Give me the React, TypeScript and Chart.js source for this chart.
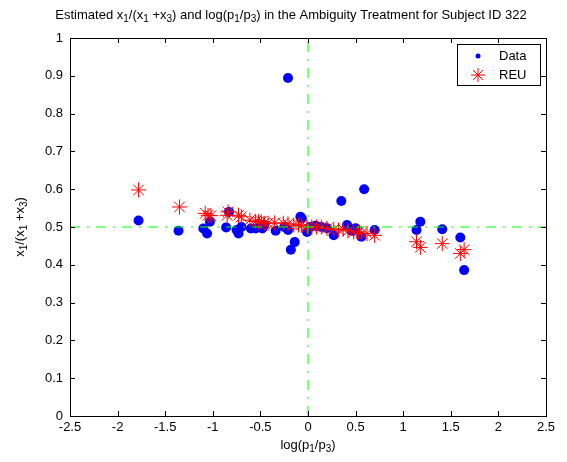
import React, { useEffect, useRef } from 'react';
import { Chart, registerables } from 'chart.js';
Chart.register(...registerables);

// Observed data (blue dots)
const dataX = [-1.78, -1.36, -1.10, -1.06, -1.03, -0.86, -0.83, -0.75, -0.73, -0.70, -0.60, -0.55, -0.48, -0.46, -0.34, -0.25, -0.21, -0.21, -0.18, -0.14, -0.08, -0.066, -0.01, 0.02, 0.08, 0.14, 0.20, 0.27, 0.35, 0.41, 0.46, 0.50, 0.56, 0.59, 0.70, 1.14, 1.18, 1.41, 1.60, 1.64];
const dataY = [0.517, 0.49, 0.496, 0.483, 0.514, 0.499, 0.54, 0.492, 0.483, 0.50, 0.496, 0.496, 0.496, 0.505, 0.49, 0.50, 0.894, 0.492, 0.44, 0.46, 0.527, 0.523, 0.487, 0.50, 0.503, 0.50, 0.497, 0.478, 0.569, 0.505, 0.49, 0.497, 0.474, 0.60, 0.492, 0.492, 0.514, 0.494, 0.472, 0.386];

// REU estimates (red stars)
const reuX = [-1.78, -1.35, -1.08, -1.05, -1.02, -0.85, -0.84, -0.73, -0.70, -0.61, -0.55, -0.52, -0.49, -0.46, -0.42, -0.35, -0.26, -0.21, -0.15, -0.10, -0.07, -0.01, 0.04, 0.09, 0.14, 0.20, 0.27, 0.32, 0.37, 0.42, 0.48, 0.53, 0.56, 0.62, 0.70, 1.14, 1.18, 1.41, 1.60, 1.64];
const reuY = [0.598, 0.553, 0.536, 0.531, 0.53, 0.531, 0.54, 0.531, 0.527, 0.518, 0.515, 0.514, 0.514, 0.51, 0.51, 0.511, 0.51, 0.508, 0.505, 0.505, 0.505, 0.50, 0.50, 0.50, 0.50, 0.496, 0.494, 0.492, 0.494, 0.49, 0.487, 0.487, 0.483, 0.483, 0.478, 0.461, 0.446, 0.456, 0.43, 0.44];

// Reference lines
const refX = 0;
const refY = 0.5;

const xTicks = [-2.5, -2, -1.5, -1, -0.5, 0, 0.5, 1, 1.5, 2, 2.5];
const yTicks = [0, 0.1, 0.2, 0.3, 0.4, 0.5, 0.6, 0.7, 0.8, 0.9, 1];

type Seg = [string, boolean];
const titleSegs: Seg[] = [
  ['Estimated x', false], ['1', true], ['/(x', false], ['1', true], [' +x', false], ['3', true],
  [') and log(p', false], ['1', true], ['/p', false], ['3', true],
  [') in the Ambiguity Treatment for Subject ID 322', false],
];
const xLabelSegs: Seg[] = [['log(p', false], ['1', true], ['/p', false], ['3', true], [')', false]];
const yLabelSegs: Seg[] = [['x', false], ['1', true], ['/(x', false], ['1', true], [' +x', false], ['3', true], [')', false]];

const FONT = '"Liberation Sans", Arial, sans-serif';
const SIZE = 13;
const SUB = 10;

function drawRich(ctx: CanvasRenderingContext2D, segs: Seg[], cx: number, cy: number) {
  let w = 0;
  for (const [t, s] of segs) {
    ctx.font = `${s ? SUB : SIZE}px ${FONT}`;
    w += ctx.measureText(t).width;
  }
  let x = cx - w / 2;
  ctx.textAlign = 'left';
  ctx.textBaseline = 'middle';
  for (const [t, s] of segs) {
    ctx.font = `${s ? SUB : SIZE}px ${FONT}`;
    ctx.fillText(t, x, s ? cy + 4 : cy);
    x += ctx.measureText(t).width;
  }
}

const decorPlugin = {
  id: 'decor',
  afterDraw(chart: any) {
    const { ctx, chartArea, scales } = chart;
    const { left, right, top, bottom } = chartArea;
    ctx.save();
    ctx.strokeStyle = '#000';
    ctx.lineWidth = 1;
    ctx.strokeRect(Math.round(left) + 0.5, Math.round(top) + 0.5, Math.round(right - left), Math.round(bottom - top));
    ctx.beginPath();
    for (const v of xTicks) {
      const px = Math.round(scales.x.getPixelForValue(v)) + 0.5;
      ctx.moveTo(px, bottom); ctx.lineTo(px, bottom - 5);
      ctx.moveTo(px, top); ctx.lineTo(px, top + 5);
    }
    for (const v of yTicks) {
      const py = Math.round(scales.y.getPixelForValue(v)) + 0.5;
      ctx.moveTo(left, py); ctx.lineTo(left + 5, py);
      ctx.moveTo(right, py); ctx.lineTo(right - 5, py);
    }
    ctx.stroke();

    ctx.fillStyle = '#000';
    drawRich(ctx, titleSegs, 291, 15);
    drawRich(ctx, xLabelSegs, (left + right) / 2, 445);
    ctx.save();
    ctx.translate(20, (top + bottom) / 2);
    ctx.rotate(-Math.PI / 2);
    drawRich(ctx, yLabelSegs, 0, 0);
    ctx.restore();

    // legend
    const lx = 457, ly = 44, lw = 83, lh = 41;
    ctx.fillStyle = '#fff';
    ctx.fillRect(lx, ly, lw, lh);
    ctx.strokeStyle = '#000';
    ctx.strokeRect(lx + 0.5, ly + 0.5, lw, lh);
    const ds = chart.data.datasets;
    ctx.fillStyle = '#0000ff';
    ctx.beginPath();
    ctx.arc(478, 56, 2.5, 0, Math.PI * 2);
    ctx.fill();
    ctx.strokeStyle = '#ff0000';
    ctx.beginPath();
    const r = 7;
    const sx = 478, sy = 75;
    ctx.moveTo(sx - r, sy); ctx.lineTo(sx + r, sy);
    ctx.moveTo(sx, sy - r); ctx.lineTo(sx, sy + r);
    const d = r * Math.SQRT1_2;
    ctx.moveTo(sx - d, sy - d); ctx.lineTo(sx + d, sy + d);
    ctx.moveTo(sx - d, sy + d); ctx.lineTo(sx + d, sy - d);
    ctx.stroke();
    ctx.fillStyle = '#000';
    ctx.font = `${SIZE}px ${FONT}`;
    ctx.textAlign = 'left';
    ctx.textBaseline = 'middle';
    ctx.fillText(ds[2].label, 499, 56);
    ctx.fillText(ds[1].label, 499, 75);
    ctx.restore();
  },
};

export default function App() {
  const ref = useRef<HTMLCanvasElement>(null);
  useEffect(() => {
    const data = dataX.map((x, i) => ({ x, y: dataY[i] }));
    const reu = reuX.map((x, i) => ({ x, y: reuY[i] }));
    const chart = new Chart(ref.current as HTMLCanvasElement, {
      type: 'scatter',
      data: {
        datasets: [
          {
            label: 'h',
            data: [{ x: -2.5, y: refY }, { x: 2.5, y: refY }],
            showLine: true, borderColor: '#00ff00', borderWidth: 1, borderDash: [10, 7, 2, 7],
            pointRadius: 0, order: 0,
          } as any,
          {
            label: 'REU',
            data: reu,
            pointStyle: 'star', pointRadius: 7.5, borderColor: '#ff0000', backgroundColor: '#ff0000',
            pointBorderWidth: 1, order: 1,
          } as any,
          {
            label: 'Data',
            data,
            pointStyle: 'circle', pointRadius: 5, borderColor: '#0000ff', backgroundColor: '#0000ff',
            pointBorderWidth: 0, order: 2,
          } as any,
          {
            label: 'v',
            data: [{ x: refX, y: 0 }, { x: refX, y: 1 }],
            showLine: true, borderColor: '#00ff00', borderWidth: 1, borderDash: [10, 7, 2, 7],
            pointRadius: 0, order: 0,
          } as any,
        ],
      },
      options: {
        animation: false,
        responsive: false,
        layout: { padding: { left: 0, right: 21, top: 38, bottom: 0 } },
        plugins: { legend: { display: false }, title: { display: false }, tooltip: { enabled: false } },
        scales: {
          x: {
            type: 'linear', min: -2.5, max: 2.5,
            afterBuildTicks: (s: any) => { s.ticks = xTicks.map((v) => ({ value: v })); },
            afterFit: (s: any) => { s.height = 46; },
            grid: { display: false, drawTicks: false },
            border: { display: false },
            ticks: { color: '#000', font: { family: FONT, size: SIZE }, padding: 4, maxRotation: 0, autoSkip: false, callback: (v: any) => String(v) },
          },
          y: {
            type: 'linear', min: 0, max: 1,
            afterBuildTicks: (s: any) => { s.ticks = yTicks.map((v) => ({ value: v })); },
            afterFit: (s: any) => { s.width = 70; },
            grid: { display: false, drawTicks: false },
            border: { display: false },
            ticks: { color: '#000', font: { family: FONT, size: SIZE }, padding: 7, autoSkip: false, callback: (v: any) => String(v) },
          },
        },
      },
      plugins: [decorPlugin],
    });
    return () => chart.destroy();
  }, []);
  return (
    <div style={{ position: 'fixed', left: 0, top: 0, width: 567, height: 462, background: '#fff' }}>
      <canvas ref={ref} width={567} height={462} />
    </div>
  );
}
